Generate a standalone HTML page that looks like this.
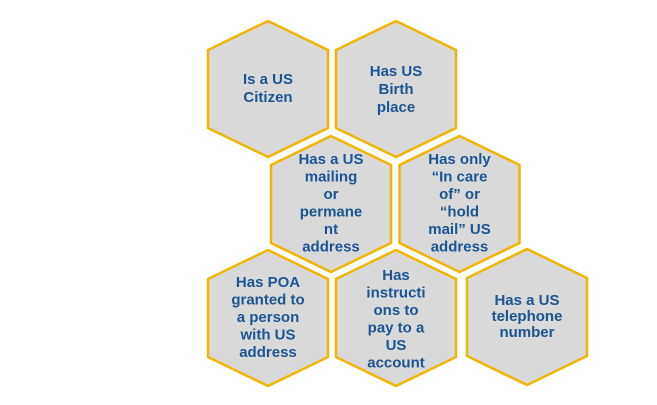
<!DOCTYPE html>
<html><head><meta charset="utf-8"><style>
html,body{margin:0;padding:0;background:#fff;}
svg{display:block}
text{font-family:"Liberation Sans",Arial,sans-serif;font-weight:bold;font-size:15px;fill:#1d5592;text-anchor:middle}
</style></head><body>
<svg width="657" height="405" viewBox="0 0 657 405" xmlns="http://www.w3.org/2000/svg">
<defs>
<polygon id="h" points="0,-68 60,-39 60,39 0,68 -60,39 -60,-39" fill="#d9d9d9" stroke="#f2b400" stroke-width="2.5"/>
</defs>
<use href="#h" x="268" y="89"/>
<use href="#h" x="396" y="89"/>
<use href="#h" x="331" y="204"/>
<use href="#h" x="459.5" y="204"/>
<use href="#h" x="268" y="318"/>
<use href="#h" x="396" y="318"/>
<use href="#h" x="527" y="317"/>

<text x="268" y="84">Is a US</text>
<text x="268" y="102">Citizen</text>

<text x="396" y="76">Has US</text>
<text x="396" y="94">Birth</text>
<text x="396" y="112">place</text>

<text x="331" y="164">Has a US</text>
<text x="331" y="181.5">mailing</text>
<text x="331" y="199">or</text>
<text x="331" y="216.5">permane</text>
<text x="331" y="234">nt</text>
<text x="331" y="251.5">address</text>

<text x="459.5" y="164">Has only</text>
<text x="459.5" y="181.5">“In care</text>
<text x="459.5" y="199">of” or</text>
<text x="459.5" y="216.5">“hold</text>
<text x="459.5" y="234">mail”  US</text>
<text x="459.5" y="251.5">address</text>

<text x="268" y="287">Has POA</text>
<text x="268" y="304.5">granted to</text>
<text x="268" y="322">a person</text>
<text x="268" y="339.5">with US</text>
<text x="268" y="357">address</text>

<text x="396" y="280">Has</text>
<text x="396" y="297.5">instructi</text>
<text x="396" y="315">ons to</text>
<text x="396" y="332.5">pay to a</text>
<text x="396" y="350">US</text>
<text x="396" y="367.5">account</text>

<text x="527" y="305">Has a US</text>
<text x="527" y="321">telephone</text>
<text x="527" y="337">number</text>
</svg>
</body></html>
